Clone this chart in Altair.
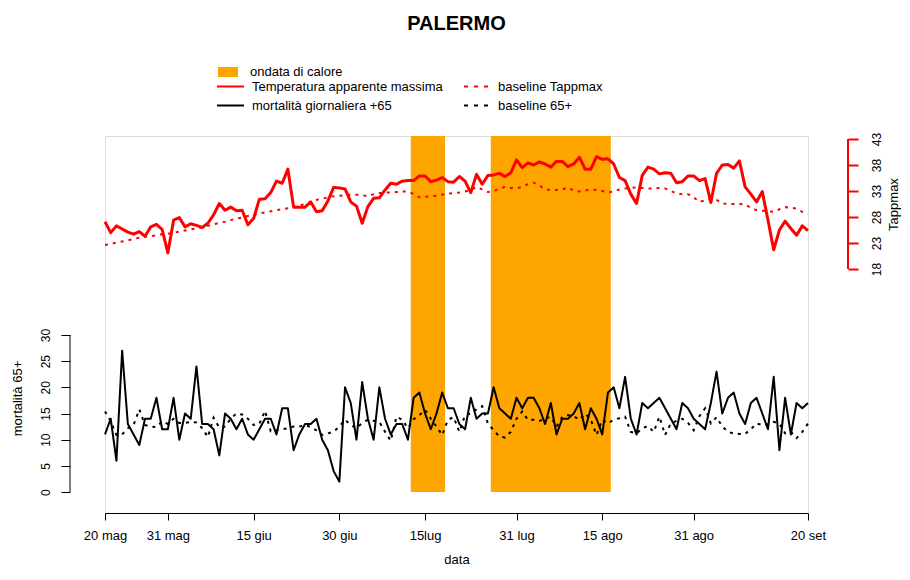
import json
import pandas as pd
import altair as alt

START = "2020-05-20"

temp = [27.1, 25.0, 26.3, 25.7, 25.1, 24.7, 25.2, 24.3, 26.1, 26.6, 25.6, 21.1,
        27.4, 27.9, 26.1, 26.7, 26.4, 26.0, 26.8, 28.4, 30.6, 29.3,
        29.9, 29.2, 29.3, 26.5, 27.7, 31.4, 31.5, 32.7, 34.9, 34.5,
        37.2, 29.9, 29.9, 29.9, 30.9, 29.0, 29.2, 31.1, 33.7, 33.6,
        33.4, 30.9, 30.1, 26.8, 30.0, 31.6, 31.7, 33.2, 34.5, 34.3,
        34.9, 35.0, 35.0, 35.9, 35.9, 34.8, 35.1, 35.6, 34.8, 34.7,
        35.8, 34.9, 32.7, 36.2, 34.3, 36.0, 36.1, 36.4, 35.8, 36.5,
        39.0, 37.5, 38.4, 38.0, 38.6, 38.2, 37.6, 38.7, 38.7, 37.7,
        38.2, 39.5, 37.2, 37.2, 39.6, 39.1, 39.2, 38.2, 35.6, 35.0,
        32.4, 30.6, 36.0, 37.6, 37.2, 36.3, 36.5, 36.4, 34.6, 34.8,
        35.9, 35.9, 35.0, 35.4, 30.8, 36.4, 38.0, 38.1, 37.4, 38.8,
        33.8, 32.4, 30.9, 32.9, 27.4, 21.7, 25.5, 27.2, 25.8, 24.5,
        26.3, 25.4]

temp_base = [22.6, 22.8, 23.1, 23.3, 23.5, 23.8, 24.0, 24.2, 24.3, 24.5,
             24.7, 24.8, 25.0, 25.2, 25.4, 25.6, 25.8, 26.0, 26.3, 26.6,
             26.9, 27.1, 27.4, 27.7, 27.9, 28.2, 28.4, 28.7, 28.9, 29.1,
             29.3, 29.5, 29.7, 29.9, 30.2, 30.5, 30.9, 31.3, 31.5, 31.8,
             32.0, 32.1, 32.2, 32.3, 32.3, 32.2, 32.0, 32.4, 32.6, 32.7,
             32.7, 32.8, 32.9, 32.9, 32.4, 31.8, 31.9, 32.0, 32.1, 32.3,
             32.5, 32.6, 32.7, 32.9, 33.2, 33.8, 33.3, 32.8, 33.0, 33.5,
             33.8, 33.6, 33.5, 33.8, 34.3, 34.6, 34.1, 33.3, 33.2, 33.2,
             33.3, 33.7, 33.1, 32.9, 33.1, 33.3, 33.2, 33.0, 32.7, 32.9,
             33.3, 33.5, 33.6, 33.7, 33.6, 33.5, 33.5, 33.6, 33.5, 33.0,
             32.5, 32.4, 32.4, 31.8, 30.9, 31.2, 31.4, 31.3, 30.6, 30.5,
             30.5, 30.5, 30.4, 29.8, 29.3, 29.2, 29.1, 29.0, 29.5, 29.9,
             29.8, 29.6, 29.0, 28.6]

mort = [11, 14, 6, 27, 13, 11, 9, 14, 14, 18,
        12, 12, 18, 10, 15, 14, 24, 13, 13, 12,
        7, 15, 14, 12, 14, 11, 10, 12, 14, 14,
        11, 16, 16, 8, 11, 13, 13, 14, 10, 8,
        4, 2, 20, 17, 10, 21, 14, 10, 20, 14,
        11, 13, 13, 10, 18, 19, 15, 12, 15, 19,
        16, 16, 13, 12, 18, 14, 15, 15, 20, 16,
        15, 14, 18, 16, 18, 18, 16, 13, 17, 11,
        14, 14, 15, 17, 12, 16, 14, 11, 19, 20,
        16, 22, 14, 11, 17, 16, 17, 18, 16, 14,
        12, 17, 16, 14, 13, 12, 17, 23, 15, 18,
        19, 15, 13, 17, 18, 15, 12, 22, 8, 18,
        11, 17, 16, 17]

mort_base = [15.4, 13.5, 10.9, 11.0, 12.2, 12.8, 15.8, 12.8, 12.5, 12.4,
             13.5, 13.0, 14.0, 13.2, 13.2, 13.4, 13.3, 12.2, 10.5, 14.2,
             12.3, 12.5, 14.0, 15.0, 14.8, 14.0, 12.8, 13.0, 15.5, 11.6,
             11.8, 12.0, 12.2, 12.5, 12.5, 12.8, 12.4, 11.8, 10.9, 11.2,
             11.5, 12.5, 13.8, 12.8, 12.2, 13.2, 13.8, 13.6, 13.4, 11.5,
             9.8, 14.4, 13.8, 12.2, 13.9, 14.7, 15.7, 14.0, 12.5, 10.9,
             13.8, 14.3, 11.5, 14.7, 15.0, 15.8, 16.4, 13.1, 11.8, 10.6,
             10.4, 11.5, 14.0, 15.4, 13.8, 13.8, 13.6, 14.0, 14.4, 12.5,
             14.3, 14.7, 14.5, 13.8, 15.0, 13.8, 10.9, 13.8, 13.1, 13.8,
             14.1, 14.4, 11.5, 11.2, 12.2, 12.6, 11.5, 14.4, 10.9, 13.1,
             13.6, 14.0, 13.2, 11.8, 14.5, 16.0, 13.1, 14.3, 12.5, 11.5,
             11.2, 11.1, 11.1, 12.0, 13.1, 12.8, 13.0, 13.4, 13.1, 11.2,
             11.5, 10.3, 11.5, 13.1]

tick_dates = ["2020-05-20", "2020-05-31", "2020-06-15", "2020-06-30", "2020-07-15",
              "2020-07-31", "2020-08-15", "2020-08-31", "2020-09-20"]
tick_labels = ["20 mag", "31 mag", "15 giu", "30 giu", "15lug",
               "31 lug", "15 ago", "31 ago", "20 set"]

wave_start = ["2020-07-13", "2020-07-27"]
wave_end = ["2020-07-18", "2020-08-16"]

mort_ticks = [0, 5, 10, 15, 20, 25, 30]
temp_ticks = [18, 23, 28, 33, 38, 43]

LAB_WAVE = "ondata di calore"
LAB_T = "Temperatura apparente massima"
LAB_M = "mortalità giornaliera +65"
LAB_TB = "baseline Tappmax"
LAB_MB = "baseline 65+"

FONT = "Liberation Sans"


def dayidx(s):
    return int((pd.Timestamp(s) - pd.Timestamp(START)).days)


dates = pd.date_range(START, periods=len(temp), freq="D")
df = pd.DataFrame({
    "day": [dayidx(d) for d in dates],
    "temp": temp, "temp_base": temp_base,
    "mort": mort, "mort_base": mort_base,
    "s_t": LAB_T, "s_m": LAB_M, "s_tb": LAB_TB, "s_mb": LAB_MB,
})
waves = pd.DataFrame({
    "x0": [dayidx(s) - 0.5 for s in wave_start],
    "x1": [dayidx(e) + 0.5 for e in wave_end],
    "lab": LAB_WAVE,
})
one = pd.DataFrame({"a": [0]})

tick_days = [dayidx(d) for d in tick_dates]
label_expr = f"{json.dumps(tick_labels)}[indexof({json.dumps(tick_days)}, datum.value)]"

last_day = dayidx(dates[-1])
xs = alt.Scale(domain=[0, last_day], nice=False, zero=False)
ys_m = alt.Scale(domain=[-4, 68], nice=False, zero=False)
ys_t = alt.Scale(domain=[-28.92, 43.58], nice=False, zero=False)

x_axis = alt.Axis(values=tick_days, labelExpr=label_expr, domain=True, domainColor="black",
                  domainWidth=1, ticks=True, tickColor="black", tickSize=7, tickWidth=1,
                  labelFont=FONT, labelFontSize=13, labelColor="black", labelPadding=9,
                  labelFlush=False, labelOverlap=False, grid=False,
                  title="data", titleFont=FONT, titleFontSize=13, titleFontWeight="normal",
                  titleColor="black", titlePadding=11)

left_axis = alt.Axis(orient="left", values=mort_ticks, domain=False, offset=35,
                     tickColor="black", tickSize=9, tickWidth=1,
                     labelAngle=270, labelAlign="center", labelBaseline="bottom",
                     labelPadding=9, labelFont=FONT, labelFontSize=12, labelColor="black",
                     labelFlush=False, labelOverlap=False, grid=False,
                     title="mortalità 65+", titleFont=FONT, titleFontSize=13,
                     titleFontWeight="normal", titleColor="black", titleAngle=270,
                     titleAlign="center", titleBaseline="middle", titleX=-53, titleY=262)

right_axis = alt.Axis(orient="right", values=temp_ticks, domain=False, offset=40,
                      tickColor="red", tickSize=10, tickWidth=2,
                      labelAngle=270, labelAlign="center", labelBaseline="top",
                      labelPadding=13, labelFont=FONT, labelFontSize=12, labelColor="black",
                      labelFlush=False, labelOverlap=False, grid=False,
                      title="Tappmax", titleFont=FONT, titleFontSize=13,
                      titleFontWeight="normal", titleColor="black", titleAngle=270,
                      titleAlign="center", titleBaseline="middle", titleX=45, titleY=68)

fill_scale = alt.Scale(domain=[LAB_WAVE], range=["#FFA500"])
color_scale = alt.Scale(domain=[LAB_T, LAB_M], range=["#FF0000", "#000000"])
stroke_scale = alt.Scale(domain=[LAB_TB, LAB_MB], range=["#FF0000", "#000000"])

fill_legend = alt.Legend(orient="none", legendX=113, legendY=-74, title=None, padding=0,
                         symbolType="M-1,-0.5L1,-0.5L1,0.5L-1,0.5Z", symbolSize=400,
                         symbolStrokeWidth=0, labelOffset=12, labelFont=FONT,
                         labelFontSize=13, labelColor="black", labelLimit=500)
color_legend = alt.Legend(orient="none", legendX=111, legendY=-58, title=None, padding=0,
                          symbolType="stroke", symbolSize=729, symbolStrokeWidth=2,
                          labelOffset=7, labelFont=FONT, labelFontSize=13,
                          labelColor="black", labelLimit=500, clipHeight=17)
stroke_legend = alt.Legend(orient="none", legendX=358, legendY=-58, title=None, padding=0,
                           symbolType="stroke", symbolSize=729, symbolStrokeWidth=2,
                           symbolDash=[4, 6], labelOffset=6, labelFont=FONT,
                           labelFontSize=13, labelColor="black", labelLimit=500, clipHeight=17)

X = alt.X("day:Q", scale=xs, axis=x_axis)

bands = alt.Chart(waves).mark_rect().encode(
    x=alt.X("x0:Q", scale=xs, axis=x_axis),
    x2="x1:Q",
    y=alt.Y(datum=0, scale=ys_m, axis=left_axis),
    y2=alt.Y2(datum=68),
    fill=alt.Fill("lab:N", scale=fill_scale, legend=fill_legend),
)

mort_base_line = alt.Chart(df).mark_line(strokeWidth=2, strokeDash=[3, 5]).encode(
    x=X,
    y=alt.Y("mort_base:Q", scale=ys_m, axis=left_axis),
    stroke=alt.Stroke("s_mb:N", scale=stroke_scale, legend=stroke_legend),
)

mort_line = alt.Chart(df).mark_line(strokeWidth=2, strokeJoin="round").encode(
    x=X,
    y=alt.Y("mort:Q", scale=ys_m, axis=left_axis),
    color=alt.Color("s_m:N", scale=color_scale, legend=color_legend),
)

left_rule = alt.Chart(one).mark_rule(color="black", strokeWidth=1).encode(
    x=alt.value(-35),
    y=alt.Y(datum=mort_ticks[0], scale=ys_m, axis=left_axis),
    y2=alt.Y2(datum=mort_ticks[-1]),
)

temp_base_line = alt.Chart(df).mark_line(strokeWidth=2, strokeDash=[3, 5]).encode(
    x=X,
    y=alt.Y("temp_base:Q", scale=ys_t, axis=right_axis),
    stroke=alt.Stroke("s_tb:N", scale=stroke_scale, legend=stroke_legend),
)

temp_line = alt.Chart(df).mark_line(strokeWidth=3, strokeJoin="round").encode(
    x=X,
    y=alt.Y("temp:Q", scale=ys_t, axis=right_axis),
    color=alt.Color("s_t:N", scale=color_scale, legend=color_legend),
)

right_rule = alt.Chart(one).mark_rule(color="red", strokeWidth=2).encode(
    x=alt.value(743),
    y=alt.Y(datum=temp_ticks[0], scale=ys_t, axis=right_axis),
    y2=alt.Y2(datum=temp_ticks[-1]),
)

left = alt.layer(bands, mort_base_line, mort_line, left_rule)
right = alt.layer(temp_base_line, temp_line, right_rule)

chart = alt.layer(left, right).resolve_scale(y="independent").properties(
    width=703, height=377,
    autosize=alt.AutoSizeParams(type="none"),
    padding={"left": 97, "top": 128, "right": 94, "bottom": 55},
    title=alt.TitleParams("PALERMO", font=FONT, fontSize=20, fontWeight="bold",
                          anchor="middle", baseline="bottom", offset=8, color="black"),
).configure_view(strokeWidth=0).configure(font=FONT, background="white")

chart.save("out.html", embed_options={"renderer": "svg", "actions": False})
